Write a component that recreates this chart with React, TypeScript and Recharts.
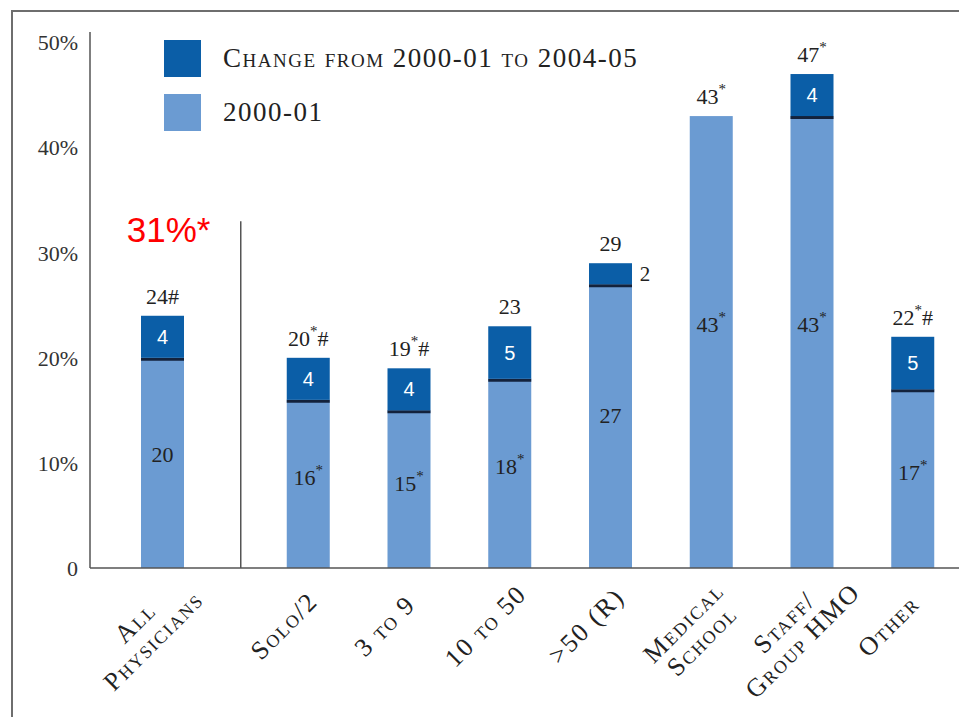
import React from 'react';
import { ComposedChart, Bar, XAxis, YAxis, LabelList, Legend, ReferenceDot, ReferenceLine } from 'recharts';

const categories = ['All Physicians', 'Solo/2', '3 to 9', '10 to 50', '>50 (R)', 'Medical School', 'Staff/Group HMO', 'Other'];
const tickLines = [['All', 'Physicians'], ['Solo/2'], ['3 to 9'], ['10 to 50'], ['>50 (R)'], ['Medical', 'School'], ['Staff/', 'Group HMO'], ['Other']];
const base2000 = [20, 16, 15, 18, 27, 43, 43, 17];
const change = [4, 4, 4, 5, 2, 0, 4, 5];
const baseLabels = ['20', '16*', '15*', '18*', '27', '43*', '43*', '17*'];
const changeLabels = ['4', '4', '4', '5', '2', '', '4', '5'];
const totalLabels = ['24#', '20*#', '19*#', '23', '29', '43*', '47*', '22*#'];
const yTicks = [0, 10, 20, 30, 40, 50];
const legendLabels = ['Change from 2000-01 to 2004-05', '2000-01'];
const annotationText = '31%*';
const annotationValue = 31;
const separatorTop = 33;

const DARK = '#0b5ea7';
const LIGHT = '#6b9bd2';
const TEXT = '#222';
const SERIF = '"Liberation Serif", "DejaVu Serif", serif';
const SANS = '"Liberation Sans", Arial, sans-serif';

const chartData = categories.map((name, i) => {
  const a = i === 0;
  return {
    name,
    chg: change[i],
    baseA: a ? base2000[i] : null,
    changeA: a ? change[i] : null,
    baseB: a ? null : base2000[i],
    changeB: a ? null : change[i],
    baseLabelA: a ? baseLabels[i] : null,
    changeLabelA: a ? changeLabels[i] : null,
    totalLabelA: a ? totalLabels[i] : null,
    baseLabelB: a ? null : baseLabels[i],
    changeLabelB: a ? null : changeLabels[i],
    totalLabelB: a ? null : totalLabels[i],
  };
});

function supText(text: string, supSize: number) {
  const parts: React.ReactNode[] = [];
  let raised = false;
  for (let k = 0; k < text.length; k++) {
    const ch = text[k];
    if (ch === '*') {
      parts.push(<tspan key={k} dy={-7} fontSize={supSize}>*</tspan>);
      raised = true;
    } else {
      parts.push(<tspan key={k} dy={raised ? 7 : 0}>{ch}</tspan>);
      raised = false;
    }
  }
  return parts;
}

const BaseShape = (props: any) => {
  const { x, y, width, height, payload } = props;
  if (!height || height <= 0) return null;
  return (
    <g>
      <rect x={x} y={y} width={width} height={height} fill={LIGHT} />
      {payload && payload.chg > 0 ? (
        <line x1={x} x2={x + width} y1={y + 1.5} y2={y + 1.5} stroke="#13223c" strokeWidth={3} />
      ) : null}
    </g>
  );
};

const ChangeShape = (props: any) => {
  const { x, y, width, height } = props;
  if (!height || height <= 0) return null;
  return <rect x={x} y={y} width={width} height={height} fill={DARK} />;
};

const BaseLabel = (props: any) => {
  const { x, y, width, height, value } = props;
  if (value === null || value === undefined || value === '') return null;
  return (
    <text x={x + width / 2} y={y + height * 0.46} textAnchor="middle" dominantBaseline="central"
      fontFamily={SERIF} fontSize={22} fill={TEXT}>
      {supText(String(value), 15)}
    </text>
  );
};

const ChangeLabel = (props: any) => {
  const { x, y, width, height, value } = props;
  if (value === null || value === undefined || value === '') return null;
  if (height < 26) {
    return (
      <text x={x + width + 13} y={y + height / 2} textAnchor="middle" dominantBaseline="central"
        fontFamily={SERIF} fontSize={21} fill={TEXT}>{value}</text>
    );
  }
  return (
    <text x={x + width / 2} y={y + height / 2} textAnchor="middle" dominantBaseline="central"
      fontFamily={SANS} fontSize={20} fill="#fff">{value}</text>
  );
};

const TotalLabel = (props: any) => {
  const { x, y, width, value } = props;
  if (value === null || value === undefined || value === '') return null;
  return (
    <text x={x + width / 2} y={y - 20} textAnchor="middle" dominantBaseline="central"
      fontFamily={SERIF} fontSize={22} fill={TEXT}>
      {supText(String(value), 15)}
    </text>
  );
};

function CategoryText({ x, y, lines }: { x: number; y: number; lines: string[] }) {
  const offs = lines.length === 1 ? [0] : [-5, 21];
  return (
    <g transform={`translate(${x - 24},${y + 58}) rotate(-45)`}>
      {lines.map((ln, k) => (
        <text key={k} x={0} y={offs[k]} textAnchor="middle" dominantBaseline="central"
          fontFamily={SERIF} fontSize={26} fill={TEXT} letterSpacing={1.8}
          style={{ fontVariant: 'small-caps' }}>{ln}</text>
      ))}
    </g>
  );
}

const TickB = (props: any) => {
  const { x, y, index } = props;
  if (index === 0) return null;
  return <CategoryText x={x} y={y} lines={tickLines[index]} />;
};

const LegendContent = () => (
  <div style={{ fontFamily: SERIF }}>
    {[DARK, LIGHT].map((c, i) => (
      <div key={i} style={{ display: 'flex', alignItems: 'center', height: 37, marginBottom: i === 0 ? 17 : 0 }}>
        <div style={{ width: 37, height: 37, background: c, marginRight: 22 }} />
        <span style={{ fontSize: 27, color: TEXT, fontVariant: 'small-caps', letterSpacing: 1.5, whiteSpace: 'nowrap' }}>
          {legendLabels[i]}
        </span>
      </div>
    ))}
  </div>
);

export default function App() {
  return (
    <div style={{ position: 'relative', width: 959, height: 709, background: '#fff' }}>
      <div style={{ position: 'absolute', left: 3, top: 2, right: 0, bottom: 0, borderLeft: '2.5px solid #6e6e6e', borderTop: '2.5px solid #6e6e6e' }} />
      <div style={{ position: 'absolute', left: 0, top: 0 }}>
        <ComposedChart width={959} height={709} data={chartData} margin={{ top: 24, right: 0, bottom: 0, left: 0 }}>
          <XAxis xAxisId="b" dataKey="name" type="category" height={149} padding={{ left: 67, right: 4 }}
            axisLine={{ stroke: '#555', strokeWidth: 1.5 }} tickLine={false} tickSize={0} tickMargin={0}
            tick={<TickB />} interval={0} />
          <XAxis xAxisId="a" dataKey="name" type="category" hide height={0} padding={{ left: 19, right: 0 }} />
          <XAxis xAxisId="c" dataKey="name" type="category" hide height={0} padding={{ left: 47, right: 0 }} />
          <YAxis domain={[0, 51]} ticks={yTicks} width={82} axisLine={{ stroke: '#555', strokeWidth: 1.5 }}
            tickLine={false} tickSize={0} tickMargin={12}
            tick={{ fontFamily: SERIF, fontSize: 22, fill: '#333' }}
            tickFormatter={(v: number) => (v === 0 ? '0' : `${v}%`)} />
          <Legend layout="vertical" align="center" verticalAlign="middle" content={<LegendContent />}
            wrapperStyle={{ position: 'absolute', top: 32, left: 156, width: 600 }} />
          <Bar xAxisId="a" dataKey="baseA" stackId="a" barSize={43} shape={<BaseShape />} isAnimationActive={false}>
            <LabelList dataKey="baseLabelA" content={<BaseLabel />} />
          </Bar>
          <Bar xAxisId="a" dataKey="changeA" stackId="a" barSize={43} shape={<ChangeShape />} isAnimationActive={false}>
            <LabelList dataKey="changeLabelA" content={<ChangeLabel />} />
            <LabelList dataKey="totalLabelA" content={<TotalLabel />} />
          </Bar>
          <Bar xAxisId="b" dataKey="baseB" stackId="b" barSize={43} shape={<BaseShape />} isAnimationActive={false}>
            <LabelList dataKey="baseLabelB" content={<BaseLabel />} />
          </Bar>
          <Bar xAxisId="b" dataKey="changeB" stackId="b" barSize={43} shape={<ChangeShape />} isAnimationActive={false}>
            <LabelList dataKey="changeLabelB" content={<ChangeLabel />} />
            <LabelList dataKey="totalLabelB" content={<TotalLabel />} />
          </Bar>
          <ReferenceLine xAxisId="c" segment={[{ x: categories[0], y: separatorTop }, { x: categories[0], y: 0 }]}
            position="end" stroke="#555" strokeWidth={1.5} ifOverflow="visible" />
          <ReferenceDot xAxisId="a" x={categories[0]} y={0} r={0} fill="none" stroke="none" ifOverflow="visible"
            label={(p: any) => <CategoryText x={p.viewBox.x + (p.viewBox.width || 0) / 2} y={p.viewBox.y + (p.viewBox.height || 0) / 2} lines={tickLines[0]} />} />
          <ReferenceDot xAxisId="a" x={categories[0]} y={annotationValue} r={0} fill="none" stroke="none" ifOverflow="visible"
            label={(p: any) => (
              <text x={p.viewBox.x + (p.viewBox.width || 0) / 2 + 6} y={p.viewBox.y + (p.viewBox.height || 0) / 2}
                textAnchor="middle" fontFamily={SANS} fontSize={35} fill="#ff0000">{annotationText}</text>
            )} />
        </ComposedChart>
      </div>
    </div>
  );
}
